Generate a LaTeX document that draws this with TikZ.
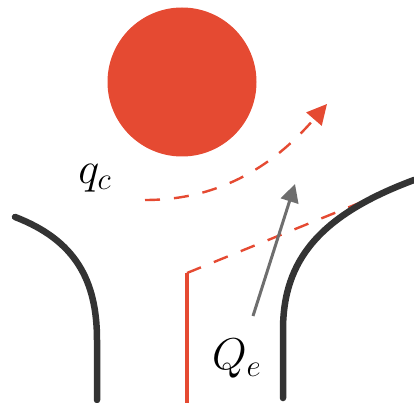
\documentclass[tikz,border=0pt]{standalone}
\usetikzlibrary{arrows.meta}
\definecolor{flame}{HTML}{E54A32}
\definecolor{wall}{HTML}{333333}
\definecolor{flow}{HTML}{6E6E6E}
\begin{document}
\begin{tikzpicture}[x=1pt,y=-1pt,
  wallline/.style={draw=wall,line width=6.5pt,line cap=round},
  reddash/.style={draw=flame,line width=2.4pt,dash pattern=on 15pt off 14pt},
  lbl/.style={inner sep=0pt,font=\fontsize{20}{24}\selectfont,scale=2.15}]
\useasboundingbox (0,0) rectangle (414,403);
% particle
\fill[flame] (182,82) circle (74.5);
% walls
\coordinate (lw0) at (15,217);
\coordinate (lw1) at (97,340);
\coordinate (lw2) at (97,400);
\coordinate (rw0) at (414,180);
\coordinate (rw1) at (283,330);
\coordinate (rw2) at (283,398);
% red plate and dashed extension (behind wall)
\coordinate (p0) at (187,403);
\coordinate (p1) at (187,273);
\coordinate (p2) at (374,197);
\draw[reddash] (p1) -- (p2);
\draw[flame,line width=4.5pt] (p0) -- (p1);
\draw[wallline] (lw0) .. controls (75,240) and (97,280) .. (lw1) -- (lw2);
\draw[wallline] (rw0) .. controls (320,215) and (283,260) .. (rw1) -- (rw2);
% q_c curved dashed arrow
\coordinate (q0) at (145,200);
\coordinate (q1) at (327,104);
\draw[reddash,-{Triangle[length=20pt,width=20pt]}] (q0) .. controls (215,200) and (270,170) .. (q1);
% Q_e gray arrow
\coordinate (g0) at (253,316);
\coordinate (g1) at (295,184);
\draw[flow,line width=3pt,-{Triangle[length=18pt,width=18pt]}] (g0) -- (g1);
% labels
\node[lbl] (qc) at (95,178) {$q_c$};
\node[lbl] (Qe) at (237,359) {$Q_e$};
\end{tikzpicture}
\end{document}
